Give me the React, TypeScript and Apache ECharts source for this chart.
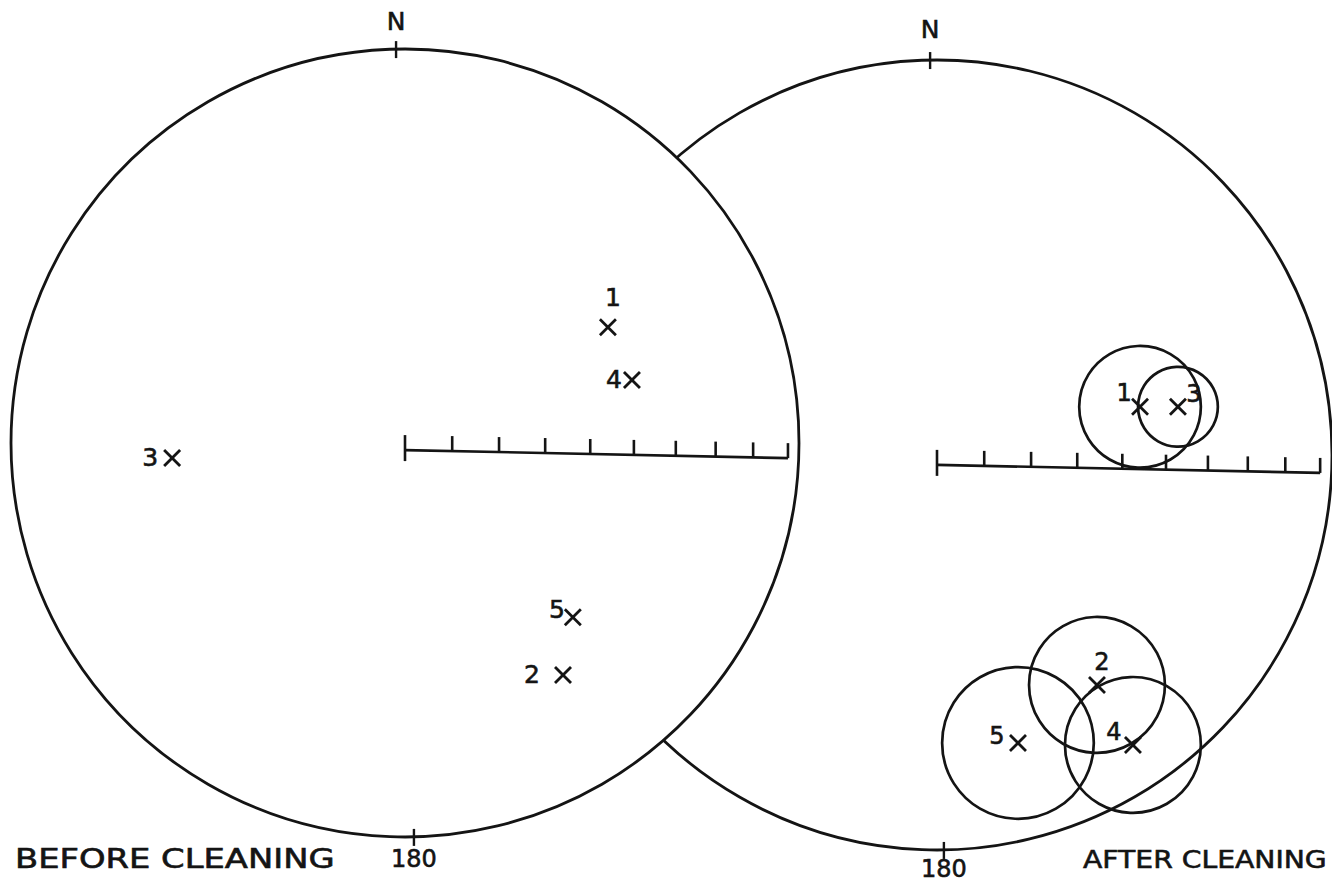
import React, { useEffect, useRef } from "react";
import * as echarts from "echarts";

// ---- data: site means on an equal-area net (net radius = 1; east, north) ----
const BEFORE_IDS = ["1", "4", "3", "5", "2"];
const BEFORE_EAST = [0.515, 0.576, -0.591, 0.426, 0.401];
const BEFORE_NORTH = [0.294, 0.16, -0.038, -0.442, -0.589];

const AFTER_IDS = ["1", "3", "2", "5", "4"];
const AFTER_EAST = [0.514, 0.61, 0.405, 0.205, 0.496];
const AFTER_NORTH = [0.122, 0.122, -0.582, -0.729, -0.734];
const AFTER_A95 = [0.154, 0.101, 0.172, 0.192, 0.172]; // cone radius, net units

const SCALE_INC = [90, 80, 70, 60, 50, 40, 30, 20, 10, 0]; // inclination ticks
const CARDINAL_LABELS = ["N", "180"];
const CARDINAL_AZ = [0, 180];

const TITLE_BEFORE = "BEFORE CLEANING";
const TITLE_AFTER = "AFTER CLEANING";

// ---- styling / placement (not data) ----
const BEFORE_LABEL_DX = [5, -18, -22, -16, -31];
const BEFORE_LABEL_DY = [-30, 0, 0, -8, -1];
const AFTER_LABEL_DX = [-16, 16, 5, -21, -19];
const AFTER_LABEL_DY = [-14, -13, -23, -7, -13];

const INK = "#141414";
const FONT = '"DejaVu Sans", "Liberation Sans", sans-serif';

type Net = {
  left: number;
  top: number;
  size: number;
  axisY0: number;
  axisSlope: number;
  axisLen: number;
  rot: number;
  nGap: number;
  sGap: number;
};

const NET_BEFORE: Net = { left: 11, top: 49, size: 788, axisY0: -0.018, axisSlope: -0.021, axisLen: 0.972, rot: -1.3, nGap: 28, sGap: 22 };
const NET_AFTER: Net = { left: 542, top: 60, size: 790, axisY0: -0.025, axisSlope: -0.021, axisLen: 0.97, rot: -1.0, nGap: 31, sGap: 19 };

const D2R = Math.PI / 180;

function textStyle(text: string, fontSize: number, align = "center") {
  return {
    text,
    fill: INK,
    stroke: INK,
    lineWidth: 0.6,
    fontFamily: FONT,
    fontSize,
    align,
    verticalAlign: "middle",
  };
}

function boundarySeries(idx: number, fill: string, z: number) {
  return {
    type: "custom",
    xAxisIndex: idx,
    yAxisIndex: idx,
    z,
    silent: true,
    data: [[0, 0]],
    renderItem: (_p: any, api: any) => {
      const c = api.coord([0, 0]);
      const r = api.size([1, 0])[0];
      return {
        type: "circle",
        shape: { cx: c[0], cy: c[1], r },
        style: { fill, stroke: INK, lineWidth: 2.8 },
      };
    },
  };
}

function scaleSeries(idx: number, net: Net) {
  return {
    type: "custom",
    xAxisIndex: idx,
    yAxisIndex: idx,
    z: 3,
    silent: true,
    data: SCALE_INC.map((v) => [v]),
    dimensions: ["inc"],
    encode: { x: 0 },
    renderItem: (params: any, api: any) => {
      const inc = api.value(0);
      const r = Math.SQRT2 * Math.sin(((90 - inc) / 2) * D2R) * net.axisLen;
      const yAt = (rr: number) => net.axisY0 + net.axisSlope * rr;
      const p = api.coord([r, yAt(r)]);
      const st = { stroke: INK, lineWidth: 2.6 };
      const children: any[] = [
        {
          type: "line",
          shape: { x1: p[0], y1: p[1] - 15, x2: p[0], y2: p[1] + (inc === 90 ? 11 : 0) },
          style: st,
        },
      ];
      if (params.dataIndex === 0) {
        const e = api.coord([net.axisLen, yAt(net.axisLen)]);
        children.push({ type: "line", shape: { x1: p[0], y1: p[1], x2: e[0], y2: e[1] }, style: st });
      }
      return { type: "group", children };
    },
  };
}

function cardinalSeries(idx: number, net: Net) {
  return {
    type: "custom",
    xAxisIndex: idx,
    yAxisIndex: idx,
    z: 3,
    silent: true,
    data: CARDINAL_AZ.map((v) => [v]),
    dimensions: ["az"],
    encode: { x: 0 },
    renderItem: (params: any, api: any) => {
      const az = (api.value(0) + net.rot) * D2R;
      const p = api.coord([Math.sin(az), Math.cos(az)]);
      const north = params.dataIndex === 0;
      return {
        type: "group",
        children: [
          { type: "line", shape: { x1: p[0], y1: p[1] - 8, x2: p[0], y2: p[1] + 9 }, style: { stroke: INK, lineWidth: 2.4 } },
          {
            type: "text",
            x: p[0],
            y: north ? p[1] - net.nGap : p[1] + net.sGap,
            style: textStyle(CARDINAL_LABELS[params.dataIndex], north ? 25 : 24),
          },
        ],
      };
    },
  };
}

function pointSeries(idx: number, east: number[], north: number[], ids: string[], dx: number[], dy: number[], fs: number) {
  return {
    type: "custom",
    xAxisIndex: idx,
    yAxisIndex: idx,
    z: 4,
    silent: true,
    data: east.map((e, i) => [e, north[i]]),
    renderItem: (params: any, api: any) => {
      const p = api.coord([api.value(0), api.value(1)]);
      const i = params.dataIndex;
      const s = 8;
      const st = { stroke: INK, lineWidth: 2.8 };
      return {
        type: "group",
        children: [
          { type: "line", shape: { x1: p[0] - s, y1: p[1] - s, x2: p[0] + s, y2: p[1] + s }, style: st },
          { type: "line", shape: { x1: p[0] - s, y1: p[1] + s, x2: p[0] + s, y2: p[1] - s }, style: st },
          {
            type: "text",
            x: p[0] + dx[i],
            y: p[1] + dy[i],
            style: textStyle(ids[i], fs),
          },
        ],
      };
    },
  };
}

function coneSeries(idx: number) {
  return {
    type: "custom",
    xAxisIndex: idx,
    yAxisIndex: idx,
    z: 3,
    silent: true,
    data: AFTER_EAST.map((e, i) => [e, AFTER_NORTH[i], AFTER_A95[i]]),
    renderItem: (_params: any, api: any) => {
      const p = api.coord([api.value(0), api.value(1)]);
      const r = api.size([api.value(2), 0])[0];
      return {
        type: "circle",
        shape: { cx: p[0], cy: p[1], r },
        style: { fill: "none", stroke: INK, lineWidth: 2.7 },
      };
    },
  };
}

export default function App() {
  const ref = useRef<HTMLDivElement>(null);

  useEffect(() => {
    document.body.style.margin = "0";
    const chart = echarts.init(ref.current!, null, { renderer: "svg" });
    const nets = [NET_BEFORE, NET_AFTER];
    const option: any = {
      animation: false,
      backgroundColor: "#ffffff",
      grid: nets.map((n) => ({ left: n.left, top: n.top, width: n.size, height: n.size, containLabel: false })),
      xAxis: nets.map((_n, i) => ({ type: "value", gridIndex: i, min: -1, max: 1, show: false })),
      yAxis: nets.map((_n, i) => ({ type: "value", gridIndex: i, min: -1, max: 1, show: false })),
      series: [
        boundarySeries(1, "none", 1),
        boundarySeries(0, "#ffffff", 2),
        scaleSeries(0, NET_BEFORE),
        scaleSeries(1, NET_AFTER),
        cardinalSeries(0, NET_BEFORE),
        cardinalSeries(1, NET_AFTER),
        coneSeries(1),
        pointSeries(0, BEFORE_EAST, BEFORE_NORTH, BEFORE_IDS, BEFORE_LABEL_DX, BEFORE_LABEL_DY, 25),
        pointSeries(1, AFTER_EAST, AFTER_NORTH, AFTER_IDS, AFTER_LABEL_DX, AFTER_LABEL_DY, 24),
      ],
      graphic: [
        {
          type: "text",
          x: 15,
          y: 859,
          scaleX: 1.3,
          style: textStyle(TITLE_BEFORE, 26, "left"),
        },
        {
          type: "text",
          x: 1083,
          y: 859,
          scaleX: 1.13,
          style: textStyle(TITLE_AFTER, 25, "left"),
        },
      ],
    };
    chart.setOption(option);
    return () => chart.dispose();
  }, []);

  return (
    <div
      ref={ref}
      style={{ position: "absolute", left: 0, top: 0, width: 1332, height: 883, background: "#fff" }}
    />
  );
}
